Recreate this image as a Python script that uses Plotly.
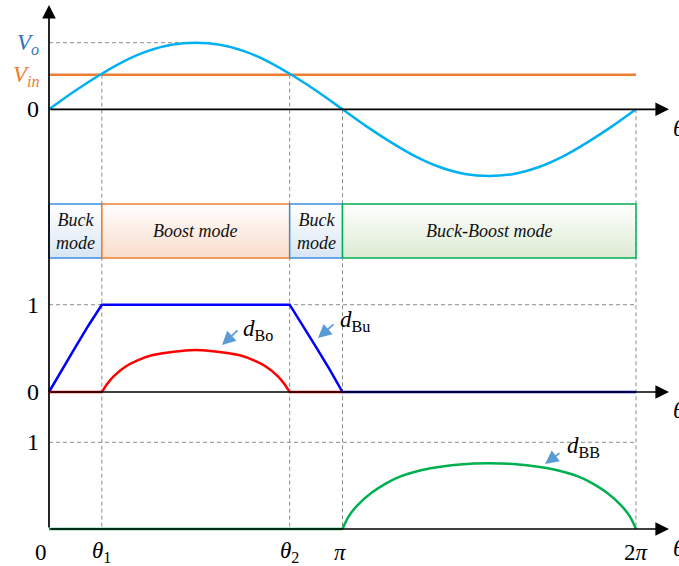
import plotly.graph_objects as go

# ---------------------------------------------------------------- data
# angles are expressed in units of pi
theta1 = 0.18
theta2 = 0.82
vin_level = 0.52

theta_vo = [0, 0.083, 0.167, 0.25, 0.333, 0.417, 0.5, 0.583, 0.667, 0.75, 0.833,
            0.917, 1.0, 1.083, 1.167, 1.25, 1.333, 1.417, 1.5, 1.583, 1.667,
            1.75, 1.833, 1.917, 2.0]
vo = [0, 0.26, 0.50, 0.71, 0.87, 0.97, 1.00, 0.97, 0.87, 0.71, 0.50, 0.26, 0,
      -0.26, -0.50, -0.71, -0.87, -0.97, -1.00, -0.97, -0.87, -0.71, -0.50,
      -0.26, 0]

theta_vin = [0, 2.0]
vin = [vin_level, vin_level]

# buck duty cycle
theta_bu = [0, 0.045, 0.09, 0.135, 0.18, 0.82, 0.865, 0.91, 0.955, 1.0, 2.0]
d_bu = [0, 0.265, 0.515, 0.765, 1.0, 1.0, 0.765, 0.515, 0.265, 0, 0]

# boost duty cycle: idle segments and the arc between theta1 and theta2
theta_bo_idle_a = [0, 0.18]
theta_bo_idle_b = [0.82, 1.0]
d_bo_idle = [0, 0]
theta_bo = [0.18, 0.20, 0.22, 0.26, 0.30, 0.35, 0.40, 0.45, 0.50, 0.55,
            0.60, 0.65, 0.70, 0.74, 0.78, 0.80, 0.82]
d_bo = [0, 0.10, 0.18, 0.29, 0.36, 0.42, 0.45, 0.47, 0.48, 0.47, 0.45,
        0.42, 0.36, 0.29, 0.18, 0.10, 0]

# buck-boost duty cycle: idle segment and the arc over the negative half
theta_bb_idle = [0, 1.0]
d_bb_idle = [0, 0]
theta_bb = [1.0, 1.02, 1.05, 1.10, 1.15, 1.20, 1.30, 1.40, 1.50, 1.60,
            1.70, 1.80, 1.85, 1.90, 1.95, 1.98, 2.0]
d_bb = [0, 0.14, 0.27, 0.42, 0.53, 0.61, 0.70, 0.745, 0.758, 0.745, 0.70,
        0.61, 0.53, 0.42, 0.27, 0.14, 0]

modes = ["Buck<br>mode", "Boost mode", "Buck<br>mode", "Buck-Boost mode"]
mode_edges = [0, theta1, theta2, 1.0, 2.0]
mode_line = ["#3d8ee0", "#ed7d31", "#3d8ee0", "#00b050"]
mode_fill = ["#d8e6f3", "#f9dccb", "#d8e6f3", "#dcebd3"]

x_ticks = [0, theta1, theta2, 1.0, 2.0]
x_tick_text = ["0", "<i>θ</i><sub>1</sub>", "<i>θ</i><sub>2</sub>",
               "<i>π</i>", "2<i>π</i>"]

# ---------------------------------------------------------------- layout geometry (pixels)
W, H = 679, 566
X0_PX, PI_PX = 49.0, 293.5
TOP_ZERO, TOP_UNIT = 109.3, 66.6
MID_ZERO, MID_UNIT = 392.0, 87.3
BOT_ZERO, BOT_UNIT = 529.0, 86.7
BAND_TOP, BAND_BOT = 204.0, 258.0
AX_TIP = 669.0

SERIF = "Liberation Serif"
DASH = dict(color="#8c8c8c", width=1, dash="4px,3px")


def xpx(px):
    return (px - X0_PX) / PI_PX


def paper_y(py):
    return 1 - py / H


def paper_x(px):
    return px / W


def top_px(v):
    return TOP_ZERO - v * TOP_UNIT


def mid_px(v):
    return MID_ZERO - v * MID_UNIT


def bot_px(v):
    return BOT_ZERO - v * BOT_UNIT


def top_val(py):
    return (TOP_ZERO - py) / TOP_UNIT


fig = go.Figure()

# ---------------------------------------------------------------- mode band
for i, name in enumerate(modes):
    a, b = mode_edges[i], mode_edges[i + 1]
    yb, yt = top_val(BAND_BOT), top_val(BAND_TOP)
    fig.add_trace(go.Scatter(
        x=[a, b, b, a, a], y=[yb, yb, yt, yt, yb], yaxis="y",
        mode="lines", fill="toself",
        fillgradient=dict(type="vertical",
                          colorscale=[[0, mode_fill[i]], [1, "#ffffff"]]),
        line=dict(color=mode_line[i], width=1.5),
        hoverinfo="skip", showlegend=False))
    fig.add_annotation(
        x=(a + b) / 2, y=paper_y((BAND_TOP + BAND_BOT) / 2),
        xref="x", yref="paper", text=f"<i>{name}</i>", showarrow=False,
        xanchor="center", yanchor="middle",
        font=dict(family=SERIF, size=18, color="#111111"))

# ---------------------------------------------------------------- dashed guides
guides = [
    (theta1, top_px(vin_level), BOT_ZERO),
    (theta2, top_px(vin_level), BOT_ZERO),
    (1.0, TOP_ZERO, BOT_ZERO),
    (2.0, TOP_ZERO, BOT_ZERO),
]
for gx, p0, p1 in guides:
    fig.add_shape(type="line", xref="x", yref="paper", x0=gx, x1=gx,
                  y0=paper_y(p0), y1=paper_y(p1), line=DASH, layer="below")
fig.add_shape(type="line", xref="x", yref="paper", x0=0, x1=0.5,
              y0=paper_y(top_px(1)), y1=paper_y(top_px(1)), line=DASH, layer="below")
fig.add_shape(type="line", xref="x", yref="paper", x0=0, x1=2.0,
              y0=paper_y(mid_px(1)), y1=paper_y(mid_px(1)), line=DASH, layer="below")
fig.add_shape(type="line", xref="x", yref="paper", x0=0, x1=2.0,
              y0=paper_y(bot_px(1)), y1=paper_y(bot_px(1)), line=DASH, layer="below")

# ---------------------------------------------------------------- axes with arrows
arrow_common = dict(showarrow=True, arrowhead=2, arrowsize=1.6, arrowwidth=1.7,
                    arrowcolor="#000000", text="", standoff=0,
                    xref="paper", yref="paper", axref="pixel", ayref="pixel")
for zero_px in (TOP_ZERO, MID_ZERO, BOT_ZERO):
    fig.add_annotation(x=paper_x(AX_TIP), y=paper_y(zero_px),
                       ax=-(AX_TIP - X0_PX), ay=0, **arrow_common)
fig.add_annotation(x=paper_x(X0_PX), y=paper_y(5), ax=0, ay=BOT_ZERO - 5,
                   **arrow_common)

# ---------------------------------------------------------------- curves
def curve(x, y, axis, color, spline=False):
    line = dict(color=color, width=2.5)
    if spline:
        line.update(shape="spline", smoothing=0.8)
    fig.add_trace(go.Scatter(x=x, y=y, yaxis=axis, mode="lines", line=line,
                             hoverinfo="skip", showlegend=False))

curve(theta_vin, vin, "y", "#ed7d31")
curve(theta_vo, vo, "y", "#00b0f0", spline=True)
curve(theta_bu, d_bu, "y2", "#0000ff")
curve(theta_bo_idle_a, d_bo_idle, "y2", "#ff0000")
curve(theta_bo_idle_b, d_bo_idle, "y2", "#ff0000")
curve(theta_bo, d_bo, "y2", "#ff0000", spline=True)
curve(theta_bb_idle, d_bb_idle, "y3", "#00b050")
curve(theta_bb, d_bb, "y3", "#00b050", spline=True)

# ---------------------------------------------------------------- text labels
def label(px, py, text, size=23, color="#000000", xanchor="center"):
    fig.add_annotation(x=paper_x(px), y=paper_y(py), xref="paper", yref="paper",
                       text=text, showarrow=False, xanchor=xanchor,
                       yanchor="middle",
                       font=dict(family=SERIF, size=size, color=color))

label(28, 44, "<i>V<sub>o</sub></i>", size=23, color="#2e75b6")
label(26, 76, "<i>V<sub>in</sub></i>", size=23, color="#ed7d31")
label(33, TOP_ZERO, "0", size=24)
label(33, mid_px(1), "1", size=24)
label(33, MID_ZERO, "0", size=24)
label(33, bot_px(1), "1", size=24)

tick_px = [41, None, None, 340, 636]
for t, txt, tp in zip(x_ticks, x_tick_text, tick_px):
    px = tp if tp is not None else X0_PX + t * PI_PX
    label(px, 552, txt)

for py in (128, 410, 548):
    label(671, py, "<i>θ</i>", size=24, xanchor="left")

# duty-cycle labels with pointer arrows
def pointer(tail, head, txt_pos, text):
    fig.add_annotation(x=paper_x(head[0]), y=paper_y(head[1]),
                       ax=tail[0] - head[0], ay=tail[1] - head[1],
                       xref="paper", yref="paper", axref="pixel", ayref="pixel",
                       text="", showarrow=True, arrowhead=2, arrowsize=1.5,
                       arrowwidth=1.8, arrowcolor="#5b9bd5", standoff=0)
    label(txt_pos[0], txt_pos[1], text, size=23, xanchor="left")

pointer((239, 329), (222, 345), (241, 330), "<i>d</i><sub>Bo</sub>")
pointer((335, 323), (318, 338), (338, 321), "<i>d</i><sub>Bu</sub>")
pointer((561, 452), (545, 464), (565, 447), "<i>d</i><sub>BB</sub>")

# ---------------------------------------------------------------- axes setup
hidden = dict(visible=False, showgrid=False, zeroline=False, fixedrange=True)
fig.update_layout(
    width=W, height=H, autosize=False,
    margin=dict(l=0, r=0, t=0, b=0),
    paper_bgcolor="white", plot_bgcolor="white",
    showlegend=False,
    xaxis=dict(range=[xpx(0), xpx(W)], domain=[0, 1], **hidden),
    yaxis=dict(range=[top_val(H), top_val(0)], domain=[0, 1], **hidden),
    yaxis2=dict(range=[(MID_ZERO - H) / MID_UNIT, MID_ZERO / MID_UNIT],
                overlaying="y", anchor="x", **hidden),
    yaxis3=dict(range=[(BOT_ZERO - H) / BOT_UNIT, BOT_ZERO / BOT_UNIT],
                overlaying="y", anchor="x", **hidden),
)

fig.write_html("out.html", config=dict(displayModeBar=False))
